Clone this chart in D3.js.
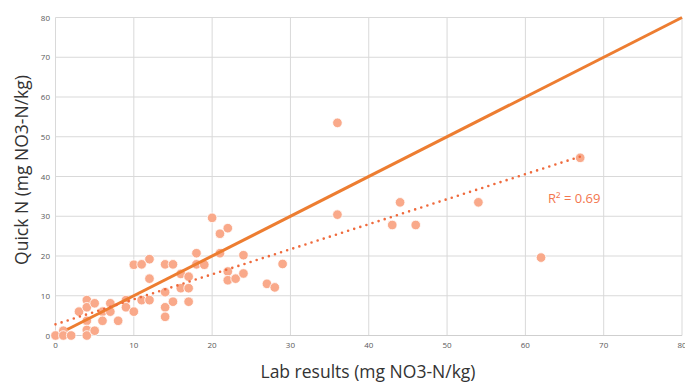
<!DOCTYPE html>
<html>
<head>
<meta charset="utf-8">
<script src="https://cdn.jsdelivr.net/npm/d3@7"></script>
<style>
  html, body { margin: 0; padding: 0; background: #fff; }
  svg { display: block; }
  text { font-family: "Open Sans", "Noto Sans", sans-serif; }
</style>
</head>
<body>
<svg id="chart" width="685" height="382"></svg>
<script>
// ---- data ----
const labResults = [0, 1, 1, 2, 3, 4, 4, 4, 4, 4, 5, 5, 6, 6, 7, 7, 8, 9, 9, 10, 10, 11, 11, 12, 12, 12,
  14, 14, 14, 14, 15, 15, 16, 16, 17, 17, 17, 18, 18, 19, 20, 21, 21, 22, 22, 22, 23, 24, 24, 27, 28, 29,
  36, 36, 43, 44, 46, 54, 62, 67];
const quickN = [0, 1.2, 0, 0, 6, 8.9, 7.1, 3.7, 1.4, 0, 8.1, 1.2, 6, 3.7, 8.1, 6, 3.7, 8.9, 7.1, 6, 17.8, 17.9, 8.9, 19.2, 14.3, 8.9,
  17.9, 10.9, 7.1, 4.7, 17.9, 8.5, 15.5, 11.9, 14.8, 11.9, 8.5, 20.7, 17.9, 17.8, 29.6, 25.6, 20.7, 27, 16.1, 13.9, 14.3, 20.2, 15.6, 13, 12.1, 18,
  53.5, 30.4, 27.8, 33.5, 27.8, 33.5, 19.6, 44.7];
const xTicks = [0, 10, 20, 30, 40, 50, 60, 70, 80];
const yTicks = [0, 10, 20, 30, 40, 50, 60, 70, 80];
const oneToOne = [[1.5, 1.5], [80, 80]];          // 1:1 reference line
const trendLine = [[0, 2.8], [67, 45]];           // linear trend (dotted)
const r2Label = "R² = 0.69";
const xTitle = "Lab results (mg NO3-N/kg)";
const yTitle = "Quick N (mg NO3-N/kg)";

// ---- layout ----
const svg = d3.select("#chart");
const x = d3.scaleLinear().domain([0, 80]).range([55.5, 682]);
const y = d3.scaleLinear().domain([0, 80]).range([335.5, 17.5]);

// grid
const grid = svg.append("g");
grid.selectAll("line.v").data(xTicks).join("line")
  .attr("x1", d => x(d)).attr("x2", d => x(d))
  .attr("y1", y(80)).attr("y2", y(0))
  .attr("stroke", "#d9d9d9").attr("stroke-width", 1);
grid.selectAll("line.h").data(yTicks).join("line")
  .attr("x1", x(0)).attr("x2", x(80))
  .attr("y1", d => y(d)).attr("y2", d => y(d))
  .attr("stroke", d => d === 0 ? "#cfcfcf" : "#d9d9d9").attr("stroke-width", 1);

// tick labels
svg.append("g").selectAll("text").data(xTicks).join("text")
  .attr("x", d => x(d)).attr("y", 348)
  .attr("text-anchor", "middle")
  .attr("font-size", 8).attr("fill", "#595959")
  .text(d => d);
svg.append("g").selectAll("text").data(yTicks).join("text")
  .attr("x", 50).attr("y", d => y(d) + 3)
  .attr("text-anchor", "end")
  .attr("font-size", 8).attr("fill", "#595959")
  .text(d => d);

// points
svg.append("g").selectAll("circle").data(labResults.map((v, i) => [v, quickN[i]])).join("circle")
  .attr("cx", d => x(d[0])).attr("cy", d => y(d[1]))
  .attr("r", 4.8)
  .attr("fill", "#f9a98a")
  .attr("stroke", "#ffffff").attr("stroke-width", 0.8);

// lines
const line = d3.line().x(d => x(d[0])).y(d => y(d[1]));
svg.append("path").datum(oneToOne).attr("d", line)
  .attr("fill", "none").attr("stroke", "#ed7d31").attr("stroke-width", 3);
svg.append("path").datum(trendLine).attr("d", line)
  .attr("fill", "none").attr("stroke", "#ef6a3c").attr("stroke-width", 2.6)
  .attr("stroke-linecap", "round").attr("stroke-dasharray", "0 6.4");

// R2 label
svg.append("text").attr("x", 548).attr("y", 203)
  .attr("font-size", 13).attr("fill", "#f3764f")
  .text(r2Label);

// axis titles
svg.append("text").attr("x", 368).attr("y", 378)
  .attr("text-anchor", "middle").attr("font-size", 17.5).attr("fill", "#333")
  .text(xTitle);
svg.append("text")
  .attr("transform", `translate(28,170) rotate(-90)`)
  .attr("text-anchor", "middle").attr("font-size", 17.5).attr("fill", "#333")
  .text(yTitle);
</script>
</body>
</html>
